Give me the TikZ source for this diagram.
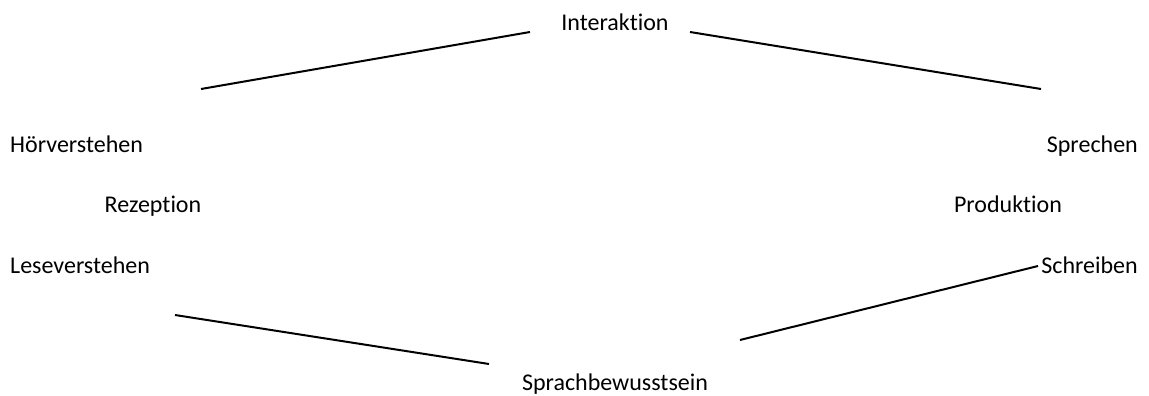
\documentclass[tikz,border=0pt]{standalone}
\usepackage{fontspec}
\setmainfont{Carlito}[Ligatures={NoCommon,NoContextual}]
\begin{document}
\begin{tikzpicture}[x=1pt,y=-1pt,
  lbl/.style={inner sep=0pt,font=\fontsize{24}{28}\selectfont},
  conn/.style={line width=2pt,black}]
\useasboundingbox (0,0) rectangle (1149,396);
\node[lbl,anchor=base] (int) at (615,31) {Interaktion};
\node[lbl,anchor=base west] (hor) at (10,152) {Hörverstehen};
\node[lbl,anchor=base east] (spr) at (1138,152) {Sprechen};
\node[lbl,anchor=base] (rez) at (153,212) {Rezeption};
\node[lbl,anchor=base] (pro) at (1008,212) {Produktion};
\node[lbl,anchor=base west] (les) at (10,273) {Leseverstehen};
\node[lbl,anchor=base east] (sch) at (1138,273) {Schreiben};
\node[lbl,anchor=base] (sb) at (615,390) {Sprachbewusstsein};
\coordinate (a1) at (201,89);
\coordinate (a2) at (530,32);
\coordinate (b1) at (690,32);
\coordinate (b2) at (1041,89);
\coordinate (c1) at (175,315);
\coordinate (c2) at (489,364);
\coordinate (d1) at (740,340);
\coordinate (d2) at (1038,266);
\draw[conn] (a1) -- (a2);
\draw[conn] (b1) -- (b2);
\draw[conn] (c1) -- (c2);
\draw[conn] (d1) -- (d2);
\end{tikzpicture}
\end{document}
